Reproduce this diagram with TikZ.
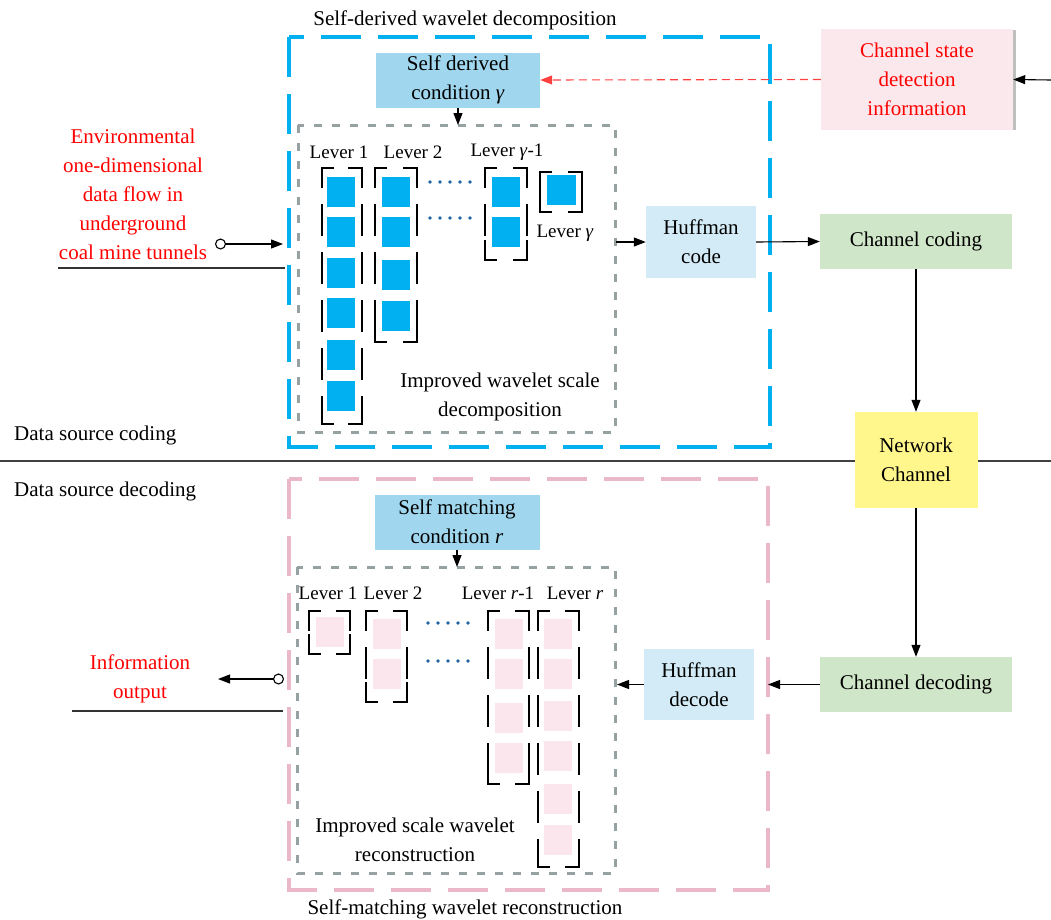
\documentclass[tikz,border=0pt]{standalone}
\usepackage{fontspec}
\setmainfont{Liberation Serif}
\usetikzlibrary{arrows.meta}
\definecolor{cyanbox}{RGB}{0,176,240}
\definecolor{condblue}{RGB}{160,215,238}
\definecolor{huffblue}{RGB}{210,235,246}
\definecolor{chgreen}{RGB}{208,230,200}
\definecolor{netyellow}{RGB}{255,246,140}
\definecolor{statepink}{RGB}{250,232,236}
\definecolor{sqpink}{RGB}{250,230,236}
\definecolor{outpink}{RGB}{234,184,200}
\definecolor{dotgray}{RGB}{150,162,162}
\definecolor{dotblue}{RGB}{30,100,160}
\definecolor{redtxt}{RGB}{255,0,0}
\newcommand\levbracket[4]{%
  \draw[brsolid] (#1+12,#2) -- (#1,#2) -- (#1,#2+20);
  \draw[brsolid] (#3-14,#2) -- (#3,#2) -- (#3,#2+20);
  \draw[brsolid] (#1+12,#4) -- (#1,#4) -- (#1,#4-20);
  \draw[brsolid] (#3-14,#4) -- (#3,#4) -- (#3,#4-20);
  \draw[brdash] (#1,#2+20) -- (#1,#4-20);
  \draw[brdash] (#3,#2+20) -- (#3,#4-20);
}
\begin{document}
\begin{tikzpicture}[x=1pt,y=-1pt,
  every node/.style={font=\fontsize{21}{29}\selectfont, inner sep=0pt, align=center},
  small/.style={font=\fontsize{19}{24}\selectfont},
  procbox/.style={draw=none},
  arr/.style={-{Triangle[length=12pt,width=9pt]}, line width=1.1pt},
  circarr/.style={{Circle[open,length=11pt,width=11pt]}-{Triangle[length=12pt,width=9pt]}, line width=1.1pt},
  outerbox/.style={line width=3.5pt, dash pattern=on 40pt off 17pt},
  innerbox/.style={dotgray, line width=3pt, dash pattern=on 8pt off 10pt},
  brsolid/.style={black, line width=2.8pt},
  brdash/.style={black, line width=2.8pt, dash pattern=on 32pt off 16pt, dash phase=32pt},
  dotline/.style={dotblue, line width=3.8pt, dash pattern=on 0pt off 10pt, line cap=round}]
\useasboundingbox (0,0) rectangle (1051,919);

% divider
\draw[black!75, line width=1.1pt] (0,461) -- (1051,461);

% outer dashed boxes
\draw[outerbox, cyanbox] (289,37) rectangle (770,447);
\draw[outerbox, outpink] (289,479) rectangle (768,890);
% inner gray boxes
\draw[innerbox] (298,125) rectangle (615,432);
\draw[innerbox] (297,567) rectangle (615,873);

% titles
\node (ttop) at (465,20) {Self-derived wavelet decomposition};
\node (tbot) at (465,909) {Self-matching wavelet reconstruction};
\node[anchor=west] (dsc) at (14,435) {Data source coding};
\node[anchor=west] (dsd) at (14,491) {Data source decoding};

% boxes
\node[procbox, fill=statepink, text=redtxt, minimum width=192pt, minimum height=101pt] (state) at (917,79.5) {Channel state\\detection\\information};
\draw[black!25, line width=3pt] (1014,30) -- (1014,130);
\node[procbox, fill=condblue, minimum width=164pt, minimum height=55pt] (cond) at (458,80) {Self derived\\condition \textit{γ}};
\node[procbox, fill=condblue, minimum width=165pt, minimum height=55pt] (mcond) at (457,522) {Self matching\\condition \textit{r}};
\node[procbox, fill=huffblue, minimum width=110pt, minimum height=72pt] (hc) at (701,242) {Huffman\\code};
\node[procbox, fill=huffblue, minimum width=110pt, minimum height=71pt] (hd) at (699,684.5) {Huffman\\decode};
\node[procbox, fill=chgreen, minimum width=192pt, minimum height=55pt] (cc) at (916,241.5) {Channel coding};
\node[procbox, fill=chgreen, minimum width=192pt, minimum height=55pt] (cd) at (916,684.5) {Channel decoding};
\node[procbox, fill=netyellow, minimum width=123pt, minimum height=96pt] (net) at (916,460) {Network\\Channel};

% left texts
\node[text=redtxt] (env) at (133,194) {Environmental\\one-dimensional\\data flow in\\underground\\coal mine tunnels};
\node[text=redtxt] (iout) at (140,679) {Information\\output};
\draw[black!80, line width=1.1pt] (58,268) -- (285,268);
\draw[black!80, line width=1.1pt] (72,711) -- (283,711);

% coordinates for free ends
\coordinate (rin) at (1051,80);
\coordinate (gtop) at (458,125);
\coordinate (gbtop) at (457,567);
\coordinate (gtr) at (616,242);
\coordinate (pinkR) at (768,684.5);
\coordinate (gbr) at (617,684.5);
\coordinate (inS) at (215,244);
\coordinate (inE) at (283,244);
\coordinate (outS) at (284,679);
\coordinate (outE) at (218,679);

% connectors
\draw[arr] (rin) -- (state.east);
\draw[-{Triangle[length=12pt,width=9pt]}, redtxt!75, line width=1.1pt, dash pattern=on 8pt off 5pt] (state.west) -- (cond.east);
\draw[arr] (cond.south) -- (gtop);
\draw[arr] (mcond.south) -- (gbtop);
\draw[arr] (gtr) -- (hc.west);
\draw[arr] (hc.east) -- (cc.west);
\draw[arr] (cc.south) -- (net.north);
\draw[arr] (net.south) -- (cd.north);
\draw[arr] (cd.west) -- (pinkR);
\draw[arr] (hd.west) -- (gbr);
\draw[circarr] (inS) -- (inE);
\draw[circarr] (outS) -- (outE);

% top levers
\foreach \t in {177,217,258,298,340,381} \fill[cyanbox] (327,\t) rectangle ++(28,30);
\foreach \t in {177,217,260,301} \fill[cyanbox] (382,\t) rectangle ++(28,30);
\foreach \t in {177,217} \fill[cyanbox] (492,\t) rectangle ++(28,30);
\fill[cyanbox] (547,175) rectangle ++(29,30);
\levbracket{322}{168}{362}{424}
\levbracket{375}{168}{417}{342}
\levbracket{485}{168}{527}{260}
\levbracket{540}{172}{582}{212}
\draw[dotline] (430,182) -- (480,182);
\draw[dotline] (430,218) -- (480,218);
\node[small] (l1) at (339,152) {Lever 1};
\node[small] (l2) at (413,152) {Lever 2};
\node[small] (lg1) at (507,152) {Lever \textit{γ}-1};
\node[small] (lg) at (565,233) {Lever \textit{γ}};
\node (iwsd) at (500,397) {Improved wavelet scale\\decomposition};

% bottom levers
\fill[sqpink] (316,617) rectangle ++(28,30);
\foreach \t in {619,659} \fill[sqpink] (373,\t) rectangle ++(28,30);
\foreach \t in {619,659,703,743} \fill[sqpink] (495,\t) rectangle ++(28,30);
\foreach \t in {619,659,701,741,784,825} \fill[sqpink] (544,\t) rectangle ++(28,30);
\levbracket{309}{611}{350}{654}
\levbracket{366}{611}{407}{702}
\levbracket{488}{611}{529}{784}
\levbracket{538}{611}{579}{867}
\draw[dotline] (428,623) -- (478,623);
\draw[dotline] (428,661) -- (478,661);
\node[small] (b1) at (328,593) {Lever 1};
\node[small] (b2) at (393,593) {Lever 2};
\node[small] (br1) at (498,593) {Lever \textit{r}-1};
\node[small] (br) at (575,593) {Lever \textit{r}};
\node (iswr) at (415,840) {Improved scale wavelet\\reconstruction};
\end{tikzpicture}
\end{document}
